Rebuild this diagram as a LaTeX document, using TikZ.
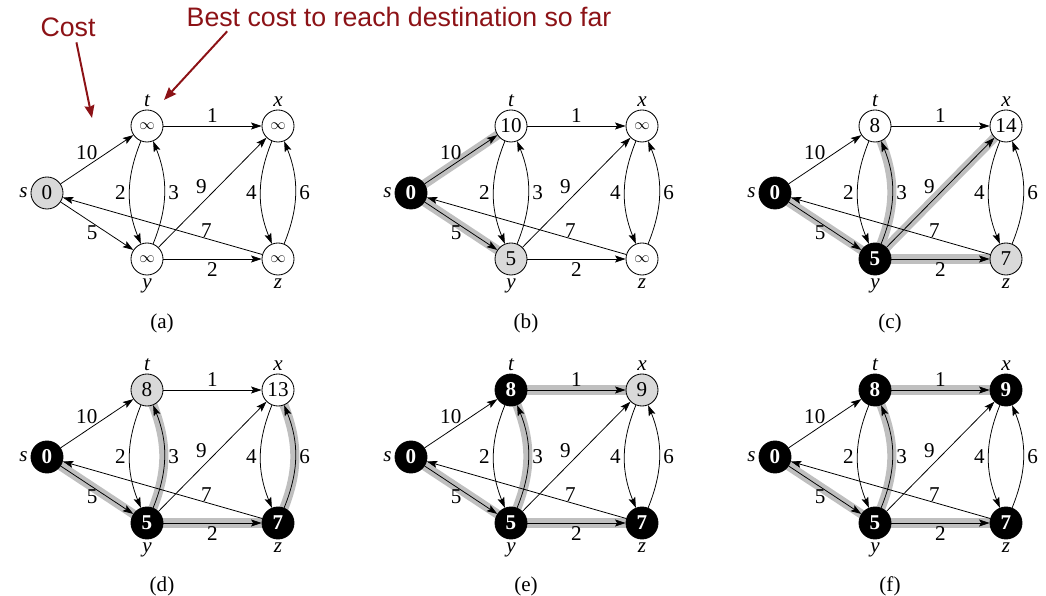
\documentclass[tikz,border=0pt]{standalone}
\usepackage{fontspec}
\setmainfont{Liberation Serif}
\newfontfamily\annofont{Liberation Sans}
\usetikzlibrary{arrows.meta, backgrounds}

\definecolor{annored}{RGB}{140,18,22}

\newcommand{\inftyval}{{\fontsize{11}{11}\selectfont$\infty$}}

\tikzset{
  wnode/.style={circle, draw, fill=white, line width=0.6pt, minimum size=0.8cm, inner sep=0pt, font=\fontsize{15}{15}\selectfont},
  gnode/.style={wnode, fill=gray!30},
  bnode/.style={wnode, fill=black, text=white, font=\fontsize{15}{15}\selectfont\bfseries},
  lab/.style={font=\fontsize{15}{15}\selectfont\itshape, inner sep=1pt},
  every label/.style={label distance=1pt},
  elab/.style={font=\fontsize{15}{15}\selectfont, inner sep=2.5pt},
  edge/.style={line width=0.55pt, -{Stealth[length=7.5pt, width=5pt, inset=1.5pt]}},
  hledge/.style={line width=6.5pt, gray!50, shorten <=-4pt, shorten >=-4pt},
  panelcap/.style={font=\fontsize{15}{15}\selectfont},
  anno/.style={font=\annofont\fontsize{19}{19}\selectfont, text=annored, inner sep=1pt},
  annoarrow/.style={annored, line width=1.4pt, -{Stealth[length=9pt, width=7pt, inset=1pt]}}
}

% all edges of the graph, #1 = panel letter
\newcommand{\baseedges}[1]{%
  \draw[edge] (s#1) -- node[elab, above left=-3pt] {10} (t#1);
  \draw[edge] (s#1) -- node[elab, below left=-3pt] {5} (y#1);
  \draw[edge] (t#1) -- node[elab, above] {1} (x#1);
  \draw[edge] (y#1) -- node[elab, below] {2} (z#1);
  \draw[edge] (t#1) to[bend right=22] node[elab, left] {2} (y#1);
  \draw[edge] (y#1) to[bend right=22] node[elab, right] {3} (t#1);
  \draw[edge] (x#1) to[bend right=22] node[elab, left] {4} (z#1);
  \draw[edge] (z#1) to[bend right=22] node[elab, right] {6} (x#1);
  \draw[edge] (y#1) -- node[elab, pos=0.47, above left=-1pt] {9} (x#1);
  \draw[edge] (z#1) -- node[elab, pos=0.28, above=-2pt] {7} (s#1);
}

\begin{document}
\begin{tikzpicture}[x=0.025cm, y=-0.025cm]
  \useasboundingbox (0,0) rectangle (1046,596);

  % Annotations
  \node[anno] (cost) at (68,27) {Cost};
  \node[anno, anchor=west] (best) at (185,17) {Best cost to reach destination so far};
  \coordinate (costtip) at (92,118);
  \coordinate (besttip) at (164,100);
  \draw[annoarrow] ([xshift=6pt, yshift=-3pt]cost.south) -- (costtip);
  \draw[annoarrow] ([xshift=30pt, yshift=-2pt]best.south west) -- (besttip);

  % (a)
  \begin{scope}[shift={(47,193)}]
    \node[gnode, label={[lab]left:s}] (sa) at (0,0) {0};
    \node[wnode, label={[lab]above:t}] (ta) at (100,-67) {\inftyval};
    \node[wnode, label={[lab]above:x}] (xa) at (231,-67) {\inftyval};
    \node[wnode, label={[lab]below:y}] (ya) at (100,66) {\inftyval};
    \node[wnode, label={[lab]below:z}] (za) at (231,66) {\inftyval};
    \node[panelcap] (capa) at (115,130) {(a)};
    \baseedges{a}
  \end{scope}

  % (b)
  \begin{scope}[shift={(411,193)}]
    \node[bnode, label={[lab]left:s}] (sb) at (0,0) {0};
    \node[wnode, label={[lab]above:t}] (tb) at (100,-67) {10};
    \node[wnode, label={[lab]above:x}] (xb) at (231,-67) {\inftyval};
    \node[gnode, label={[lab]below:y}] (yb) at (100,66) {5};
    \node[wnode, label={[lab]below:z}] (zb) at (231,66) {\inftyval};
    \node[panelcap] (capb) at (115,130) {(b)};
    \begin{scope}[on background layer]
      \draw[hledge] (sb) -- (tb);
      \draw[hledge] (sb) -- (yb);
    \end{scope}
    \baseedges{b}
  \end{scope}

  % (c)
  \begin{scope}[shift={(775,193)}]
    \node[bnode, label={[lab]left:s}] (sc) at (0,0) {0};
    \node[wnode, label={[lab]above:t}] (tc) at (100,-67) {8};
    \node[wnode, label={[lab]above:x}] (xc) at (231,-67) {14};
    \node[bnode, label={[lab]below:y}] (yc) at (100,66) {5};
    \node[gnode, label={[lab]below:z}] (zc) at (231,66) {7};
    \node[panelcap] (capc) at (115,130) {(c)};
    \begin{scope}[on background layer]
      \draw[hledge] (sc) -- (yc);
      \draw[hledge] (yc) to[bend right=22] (tc);
      \draw[hledge] (yc) -- (xc);
      \draw[hledge] (yc) -- (zc);
    \end{scope}
    \baseedges{c}
  \end{scope}

  % (d)
  \begin{scope}[shift={(47,457)}]
    \node[bnode, label={[lab]left:s}] (sd) at (0,0) {0};
    \node[gnode, label={[lab]above:t}] (td) at (100,-67) {8};
    \node[wnode, label={[lab]above:x}] (xd) at (231,-67) {13};
    \node[bnode, label={[lab]below:y}] (yd) at (100,66) {5};
    \node[bnode, label={[lab]below:z}] (zd) at (231,66) {7};
    \node[panelcap] (capd) at (115,129) {(d)};
    \begin{scope}[on background layer]
      \draw[hledge] (sd) -- (yd);
      \draw[hledge] (yd) to[bend right=22] (td);
      \draw[hledge] (yd) -- (zd);
      \draw[hledge] (zd) to[bend right=22] (xd);
    \end{scope}
    \baseedges{d}
  \end{scope}

  % (e)
  \begin{scope}[shift={(411,457)}]
    \node[bnode, label={[lab]left:s}] (se) at (0,0) {0};
    \node[bnode, label={[lab]above:t}] (te) at (100,-67) {8};
    \node[gnode, label={[lab]above:x}] (xe) at (231,-67) {9};
    \node[bnode, label={[lab]below:y}] (ye) at (100,66) {5};
    \node[bnode, label={[lab]below:z}] (ze) at (231,66) {7};
    \node[panelcap] (cape) at (115,129) {(e)};
    \begin{scope}[on background layer]
      \draw[hledge] (se) -- (ye);
      \draw[hledge] (ye) to[bend right=22] (te);
      \draw[hledge] (ye) -- (ze);
      \draw[hledge] (te) -- (xe);
    \end{scope}
    \baseedges{e}
  \end{scope}

  % (f)
  \begin{scope}[shift={(775,457)}]
    \node[bnode, label={[lab]left:s}] (sf) at (0,0) {0};
    \node[bnode, label={[lab]above:t}] (tf) at (100,-67) {8};
    \node[bnode, label={[lab]above:x}] (xf) at (231,-67) {9};
    \node[bnode, label={[lab]below:y}] (yf) at (100,66) {5};
    \node[bnode, label={[lab]below:z}] (zf) at (231,66) {7};
    \node[panelcap] (capf) at (115,129) {(f)};
    \begin{scope}[on background layer]
      \draw[hledge] (sf) -- (yf);
      \draw[hledge] (yf) to[bend right=22] (tf);
      \draw[hledge] (yf) -- (zf);
      \draw[hledge] (tf) -- (xf);
    \end{scope}
    \baseedges{f}
  \end{scope}
\end{tikzpicture}
\end{document}
